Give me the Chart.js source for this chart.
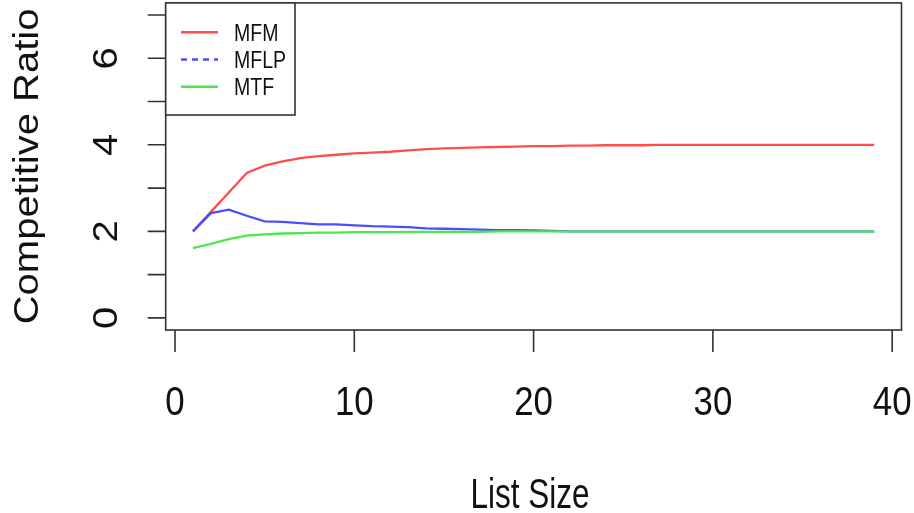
<!DOCTYPE html>
<html>
<head>
<meta charset="utf-8">
<script src="https://cdn.jsdelivr.net/npm/chart.js@4"></script>
<style>
  html, body { margin: 0; padding: 0; background: #fff; }
  #wrap { width: 914px; height: 513px; position: relative; }
</style>
</head>
<body>
<div id="wrap"><canvas id="myChart"></canvas></div>
<script>
const listSize = [1, 2, 3, 4, 5, 6, 7, 8, 9, 10, 11, 12, 13, 14, 15, 16, 17, 18, 19, 20,
  21, 22, 23, 24, 25, 26, 27, 28, 29, 30, 31, 32, 33, 34, 35, 36, 37, 38, 39];
const mfm = [2.00, 2.45, 2.90, 3.35, 3.52, 3.62, 3.69, 3.74, 3.77, 3.80, 3.82, 3.84, 3.87, 3.90, 3.92, 3.93, 3.94, 3.95, 3.96, 3.97,
  3.97, 3.98, 3.98, 3.99, 3.99, 3.99, 4.00, 4.00, 4.00, 4.00, 4.00, 4.00, 4.00, 4.00, 4.00, 4.00, 4.00, 4.00, 4.00];
const mflp = [2.00, 2.42, 2.50, 2.36, 2.23, 2.22, 2.19, 2.16, 2.16, 2.14, 2.12, 2.11, 2.10, 2.07, 2.06, 2.05, 2.04, 2.03, 2.03, 2.02,
  2.01, 2.00, 2.00, 2.00, 2.00, 2.00, 2.00, 2.00, 2.00, 2.00, 2.00, 2.00, 2.00, 2.00, 2.00, 2.00, 2.00, 2.00, 2.00];
const mtf = [1.61, 1.71, 1.82, 1.90, 1.93, 1.95, 1.96, 1.97, 1.97, 1.98, 1.98, 1.98, 1.99, 1.99, 1.99, 1.99, 1.99, 2.00, 2.00, 2.00,
  2.00, 2.00, 2.00, 2.00, 2.00, 2.00, 2.00, 2.00, 2.00, 2.00, 2.00, 2.00, 2.00, 2.00, 2.00, 2.00, 2.00, 2.00, 2.00];

const xTicks = [0, 10, 20, 30, 40];
const xTickLabels = ['0', '10', '20', '30', '40'];
const yTicks = [0, 1, 2, 3, 4, 5, 6, 7];
const yTickLabels = ['0', '', '2', '', '4', '', '6', ''];

const FONT = '"Liberation Sans", Arial, Helvetica, sans-serif';

function pts(ys) {
  return listSize.map((x, i) => ({ x: x, y: ys[i] }));
}

// text squeezed across its height, like the stretched R png
function txt(ctx, s, x, y, size, k, rotated, align) {
  ctx.save();
  ctx.translate(x, y);
  if (rotated) {
    ctx.rotate(-Math.PI / 2);
    ctx.scale(1, k);
  } else {
    ctx.scale(k, 1);
  }
  ctx.font = size + 'px ' + FONT;
  ctx.textAlign = align || 'center';
  ctx.textBaseline = 'alphabetic';
  ctx.fillStyle = '#111';
  ctx.fillText(s, 0, 0);
  ctx.restore();
}

const rAxes = {
  id: 'rAxes',
  afterDraw(chart) {
    const ctx = chart.ctx;
    const a = chart.chartArea;
    const xs = chart.scales.x;
    const ys = chart.scales.y;
    ctx.save();
    ctx.strokeStyle = '#333';
    ctx.lineWidth = 1.6;
    ctx.strokeRect(a.left, a.top, a.right - a.left, a.bottom - a.top);

    // x ticks
    ctx.beginPath();
    xTicks.forEach(v => {
      const px = xs.getPixelForValue(v);
      ctx.moveTo(px, a.bottom);
      ctx.lineTo(px, a.bottom + 22);
    });
    // y ticks
    yTicks.forEach(v => {
      const py = ys.getPixelForValue(v);
      ctx.moveTo(a.left, py);
      ctx.lineTo(a.left - 18, py);
    });
    ctx.stroke();

    xTicks.forEach((v, i) => txt(ctx, xTickLabels[i], xs.getPixelForValue(v), 415, 40, 0.87, false));
    yTicks.forEach((v, i) => {
      if (yTickLabels[i]) txt(ctx, yTickLabels[i], 117, ys.getPixelForValue(v), 40, 0.87, true);
    });

    txt(ctx, 'List Size', 530, 508, 42, 0.75, false);
    txt(ctx, 'Competitive Ratio', 38, (a.top + a.bottom) / 2, 40, 0.87, true);

    // legend, top left
    ctx.fillStyle = '#fff';
    ctx.fillRect(a.left, a.top, 295 - a.left, 115 - a.top);
    ctx.strokeStyle = '#333';
    ctx.lineWidth = 1.6;
    ctx.strokeRect(a.left, a.top, 295 - a.left, 115 - a.top);
    const dashes = [[], [6, 5], []];
    chart.data.datasets.forEach((ds, i) => {
      const base = 40.5 + i * 27.3;
      const ly = base - 8.3;
      ctx.beginPath();
      ctx.setLineDash(dashes[i]);
      ctx.strokeStyle = ds.borderColor;
      ctx.lineWidth = 2.5;
      ctx.moveTo(181, ly);
      ctx.lineTo(218, ly);
      ctx.stroke();
      ctx.setLineDash([]);
      txt(ctx, ds.label, 234, base, 23, 0.85, false, 'left');
    });
    ctx.restore();
  }
};

const chart = new Chart(document.getElementById('myChart').getContext('2d'), {
  type: 'line',
  data: {
    datasets: [
      { label: 'MFM', data: pts(mfm), borderColor: '#ff4d4d', order: 2 },
      { label: 'MFLP', data: pts(mflp), borderColor: '#4d4dff', order: 1 },
      { label: 'MTF', data: pts(mtf), borderColor: '#4de64d', order: 0 }
    ]
  },
  options: {
    responsive: true,
    maintainAspectRatio: false,
    animation: false,
    layout: { padding: { left: 165.7, top: 2.9, right: 12.5, bottom: 183 } },
    elements: {
      point: { radius: 0 },
      line: { borderWidth: 2.3, tension: 0, fill: false }
    },
    scales: {
      x: { type: 'linear', min: -0.52, max: 40.52, display: false },
      y: { type: 'linear', min: -0.28, max: 7.28, display: false }
    },
    plugins: {
      legend: { display: false },
      tooltip: { enabled: false }
    }
  },
  plugins: [rAxes]
});
</script>
</body>
</html>
